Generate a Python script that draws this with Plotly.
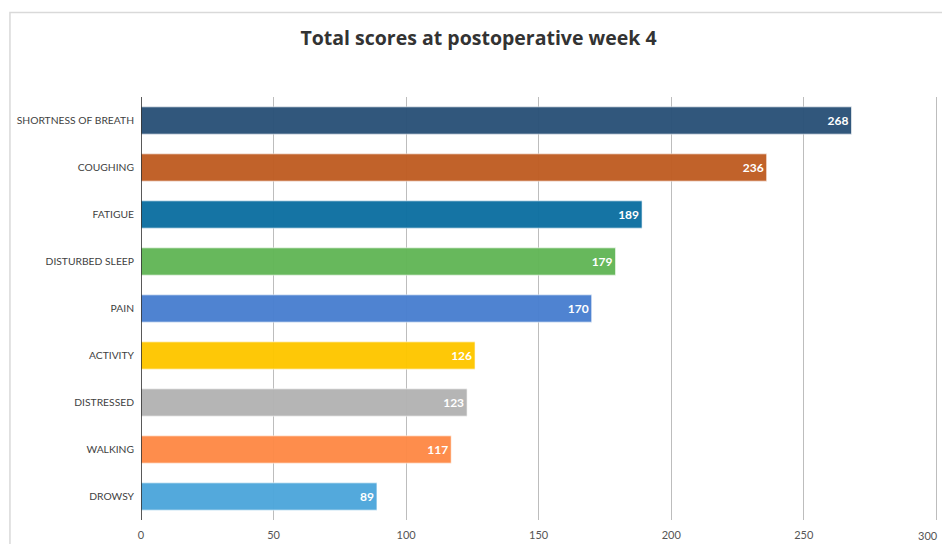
import plotly.graph_objects as go

categories = ["SHORTNESS OF BREATH", "COUGHING", "FATIGUE", "DISTURBED SLEEP", "PAIN",
              "ACTIVITY", "DISTRESSED", "WALKING", "DROWSY"]
scores = [268, 236, 189, 179, 170, 126, 123, 117, 89]
colors = ["#2B5278", "#C05D24", "#0E70A2", "#63B657", "#4A80D0",
          "#FEC700", "#B3B3B3", "#FE8A47", "#4EA7DB"]
tick_vals = [0, 50, 100, 150, 200, 250, 300]

fig = go.Figure(go.Bar(
    x=scores, y=categories, orientation="h",
    marker=dict(color=colors, opacity=0.97, line=dict(color="rgba(255,255,255,0.6)", width=1)),
    width=0.58,
    text=[str(v) for v in scores], textposition="inside", insidetextanchor="end",
    textfont=dict(family="Lato", size=12, color="white", weight="bold"),
    cliponaxis=False,
))

W, H = 942, 544
xmax = 301
L, T, B = 141, 97, 24
pw = 795 / 300 * xmax
R = W - L - pw
ph = H - T - B

tickfont = dict(family="Lato", size=11, color="#555555")

fig.update_layout(
    width=W, height=H,
    margin=dict(l=L, r=R, t=T, b=B),
    paper_bgcolor="white", plot_bgcolor="white",
    title=dict(text="<b>Total scores at postoperative week 4</b>", x=0.508, xanchor="center",
               y=1 - 38 / H, yanchor="middle", yref="container",
               font=dict(family="Open Sans", size=19.5, color="#333333")),
    xaxis=dict(range=[0, xmax], tickvals=tick_vals, showgrid=True, gridcolor="#BDBDBD", gridwidth=1.2,
               zeroline=False, showline=False, ticks="", fixedrange=True, ticklabelstandoff=7,
               tickfont=tickfont),
    yaxis=dict(categoryorder="array", categoryarray=categories[::-1], showgrid=False,
               ticks="", ticklabelstandoff=6,
               tickfont=dict(family="Lato", size=10.3, color="#3F3F3F")),
    showlegend=False,
    shapes=[
        dict(type="line", xref="x", yref="paper", x0=0, x1=0, y0=0, y1=1,
             line=dict(color="#222222", width=1.5), layer="above"),
        dict(type="rect", xref="paper", yref="paper",
             x0=(10 - L) / pw, x1=1.2, y0=(B - 200) / ph, y1=(H - B - 12.5) / ph,
             line=dict(color="#D9D9D9", width=1.5), layer="below"),
    ],
    annotations=[
        dict(x=tick_vals[-1], xref="x", y=-15 / ph, yref="paper", text=str(tick_vals[-1]),
             showarrow=False, xanchor="right", xshift=4, yanchor="middle", font=tickfont),
    ],
)

fig.write_html("out.html")
